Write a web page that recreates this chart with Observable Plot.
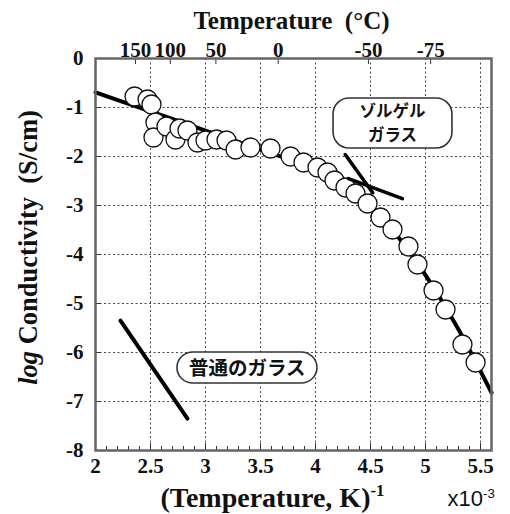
<!DOCTYPE html>
<html><head><meta charset="utf-8">
<script src="https://cdn.jsdelivr.net/npm/d3@7"></script>
<script src="https://cdn.jsdelivr.net/npm/@observablehq/plot@0.6"></script>
<style>
body{margin:0;background:#fff;}
#chart svg{display:block;background:#fff}
</style></head><body><div id="chart"></div>
<script>
// measured data: inverse temperature (1000/K) vs log conductivity (S/cm)
const invT = [2.355,2.473,2.509,2.545,2.527,2.645,2.727,2.764,2.836,2.927,3.0,3.1,3.191,3.273,3.409,3.591,3.773,3.891,4.018,4.109,4.173,4.273,4.364,4.473,4.591,4.7,4.845,4.927,5.073,5.182,5.336,5.455];
const logSigma = [-0.776,-0.837,-0.939,-1.306,-1.612,-1.388,-1.653,-1.429,-1.469,-1.714,-1.673,-1.653,-1.673,-1.857,-1.816,-1.837,-2.0,-2.122,-2.224,-2.327,-2.49,-2.633,-2.755,-2.959,-3.245,-3.49,-3.837,-4.204,-4.735,-5.122,-5.837,-6.204];
// fitted curve through the sol-gel data
const fitInvT = [2.0,2.5,3.0,3.5,4.0,4.25,4.5,4.75,5.0,5.3,5.6];
const fitLogSigma = [-0.69,-1.08,-1.47,-1.86,-2.27,-2.58,-3.0,-3.64,-4.42,-5.53,-6.82];
// two short crossing lines near the sol-gel label
const crossSeg = ["a","a","b","b"];
const crossInvT = [4.27,4.52,4.30,4.79];
const crossLogSigma = [-1.96,-2.74,-2.45,-2.86];
// ordinary glass line
const glassInvT = [2.227,2.836];
const glassLogSigma = [-5.35,-7.35];
// ticks
const xTicks = [2,2.5,3,3.5,4,4.5,5,5.5];
const xTickLabels = ["2","2.5","3","3.5","4","4.5","5","5.5"];
const xGrid = [2.5,3,3.5,4,4.5,5,5.5];
const yTicks = [0,-1,-2,-3,-4,-5,-6,-7,-8];
const yTickLabels = ["0","-1","-2","-3","-4","-5","-6","-7","-8"];
const yGrid = [-1,-2,-3,-4,-5,-6,-7];
const celsiusTicks = [150,100,50,0,-50,-75];
const celsiusLabels = ["150","100","50","0","-50","-75"];
// annotations (text lines and their anchor in data units)
const noteText = ["ゾルゲル","ガラス","普通のガラス"];
const noteX = [4.70,4.70,3.38];
const noteY = [-1.085,-1.575,-6.33];
const boxX1 = [4.164,2.745], boxX2 = [5.245,4.018];
const boxY1 = [-0.816,-6.0], boxY2 = [-1.837,-6.633];

const W = 510, H = 514, mL = 95, mR = 19, mT = 58, mB = 64;
const plotW = W - mL - mR, plotH = H - mT - mB;

const pts = invT.map((x,i)=>({x, y: logSigma[i]}));
const fit = fitInvT.map((x,i)=>({x, y: fitLogSigma[i]}));
const cross = crossInvT.map((x,i)=>({x, y: crossLogSigma[i], z: crossSeg[i]}));
const glass = glassInvT.map((x,i)=>({x, y: glassLogSigma[i]}));
const notes = noteText.map((t,i)=>({t, x: noteX[i], y: noteY[i]}));
const boxes = boxX1.map((x1,i)=>({x1, x2: boxX2[i], y1: boxY1[i], y2: boxY2[i]}));
const celsiusX = celsiusTicks.map(c => 1000/(c+273.15));
const minorX = d3.range(20,57).map(d=>d/10);
const xLab = xTicks.map((v,i)=>({v, t: xTickLabels[i]}));
const yLab = yTicks.map((v,i)=>({v, t: yTickLabels[i]}));
const cLab = celsiusX.map((v,i)=>({v, t: celsiusLabels[i]}));

const serif = "'Liberation Serif', 'Times New Roman', serif";
const cjk = "'Noto Sans CJK JP', sans-serif";
const gridStyle = {stroke:"#333", strokeOpacity:0.9, strokeWidth:1, strokeDasharray:"2,2.5"};
const tickFont = {fontFamily: serif, fontWeight: "bold", fontSize: 21, fill: "#111"};

const plot = Plot.plot({
  width: W, height: H,
  marginLeft: mL, marginRight: mR, marginTop: mT, marginBottom: mB,
  style: {fontFamily: serif, fontWeight: "bold", fontSize: "21px", color: "#111", background: "#fff"},
  x: {domain: [2, 5.6], label: null, axis: null},
  y: {domain: [-8, 0], label: null, axis: null},
  marks: [
    Plot.gridX(xGrid, gridStyle),
    Plot.gridY(yGrid, gridStyle),
    Plot.tickX(minorX, {stroke:"#333", strokeWidth:1, insetTop: plotH - 4}),
    Plot.tickX(xTicks, {stroke:"#333", strokeWidth:1, insetTop: plotH - 7}),
    Plot.tickX(celsiusX, {stroke:"#333", strokeWidth:1, insetBottom: plotH - 6}),
    Plot.tickY(yTicks, {stroke:"#333", strokeWidth:1, insetRight: plotW - 6}),
    Plot.line(glass, {x:"x", y:"y", stroke:"#000", strokeWidth:4, strokeLinecap:"round"}),
    Plot.line(fit, {x:"x", y:"y", curve:"monotone-x", stroke:"#000", strokeWidth:4}),
    Plot.dot(pts, {x:"x", y:"y", r:9.5, fill:"#fff", stroke:"#111", strokeWidth:1.3}),
    Plot.line(cross, {x:"x", y:"y", z:"z", stroke:"#000", strokeWidth:3.5, strokeLinecap:"round"}),
    Plot.rect(boxes, {x1:"x1", x2:"x2", y1:"y1", y2:"y2", rx:16, ry:16, fill:"#fff", stroke:"#333", strokeWidth:1.6}),
    Plot.text(notes.slice(0,2), {x:"x", y:"y", text:"t", fontFamily: cjk, fontSize: 16.5, fontWeight: "bold", fill:"#111"}),
    Plot.text(notes.slice(2), {x:"x", y:"y", text:"t", fontFamily: cjk, fontSize: 19.5, fontWeight: "bold", fill:"#111"}),
    Plot.frame({stroke:"#666", strokeWidth:2.5}),
    // tick labels
    Plot.text(yLab, {y:"v", text:"t", frameAnchor:"left", textAnchor:"end", lineAnchor:"middle", dx:-12, ...tickFont}),
    Plot.text(xLab, {x:"v", text:"t", frameAnchor:"bottom", textAnchor:"middle", lineAnchor:"top", dy:8, ...tickFont}),
    Plot.text(cLab, {x:"v", text:"t", frameAnchor:"top", textAnchor:"middle", lineAnchor:"bottom", dy:-2, ...tickFont}),
    // titles
    Plot.text(["Temperature\u00a0\u00a0(°C)"], {frameAnchor:"top", textAnchor:"middle", dy:-30, dx:-2, lineAnchor:"bottom", fontSize:25}),
    Plot.text(["log Conductivity\u00a0\u00a0(S/cm)"], {frameAnchor:"left", textAnchor:"middle", lineAnchor:"middle", rotate:-90, dx:-67, dy:-7, fontSize:26.5}),
    Plot.text(["(Temperature, K)^-1"], {frameAnchor:"bottom-left", textAnchor:"start", lineAnchor:"bottom", dx:65, dy:56, fontSize:28}),
    Plot.text(["x10^-3"], {frameAnchor:"bottom-left", textAnchor:"start", lineAnchor:"bottom", dx:352, dy:55, fontSize:22, fontFamily:"'Liberation Sans', sans-serif", fontWeight:"normal"})
  ]
});

const NS = "http://www.w3.org/2000/svg";
plot.querySelectorAll("text").forEach(t => {
  const s = t.textContent;
  if (s.includes("^")) {
    const [base, sup] = s.split("^");
    t.textContent = "";
    const a = document.createElementNS(NS, "tspan"); a.textContent = base; t.appendChild(a);
    const b = document.createElementNS(NS, "tspan"); b.textContent = sup;
    b.setAttribute("font-size", "0.6em"); b.setAttribute("dy", "-0.6em"); t.appendChild(b);
  } else if (s.startsWith("log ")) {
    t.textContent = "";
    const a = document.createElementNS(NS, "tspan"); a.textContent = "log"; a.setAttribute("font-style", "italic"); t.appendChild(a);
    const b = document.createElementNS(NS, "tspan"); b.textContent = s.slice(3); t.appendChild(b);
  }
});
document.getElementById("chart").appendChild(plot);
</script></body></html>
